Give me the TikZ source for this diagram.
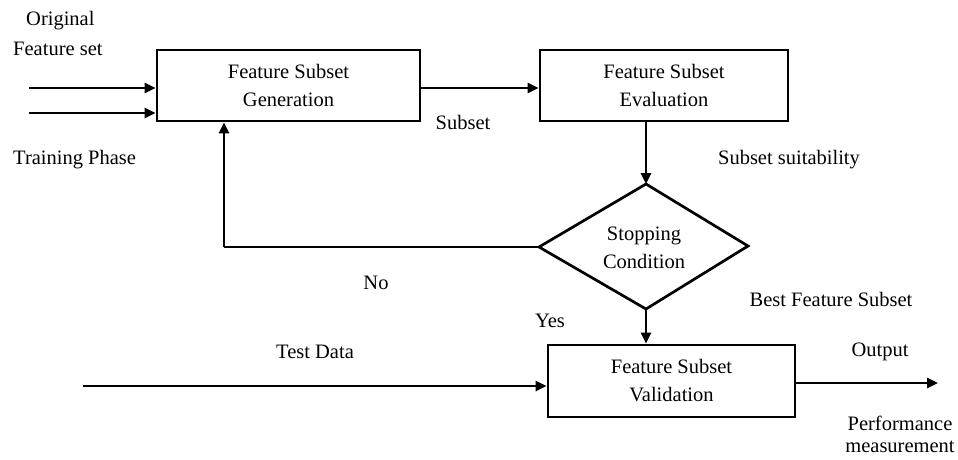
\documentclass[tikz,border=0pt]{standalone}
\usepackage{fontspec}
\setmainfont{Liberation Serif}
\usetikzlibrary{arrows.meta}
\begin{document}
\begin{tikzpicture}[x=1pt,y=-1pt,
  every node/.style={font=\fontsize{20.5}{28}\selectfont, inner sep=0pt},
  procbox/.style={draw, line width=2.7pt, align=center},
  lbl/.style={align=center},
  conn/.style={line width=2.6pt, -{Triangle[length=11pt,width=10pt]}},
  plain/.style={line width=2.6pt}]
\useasboundingbox (0,0) rectangle (958,459);
\fill[white] (0,0) rectangle (958,459);
% boxes
\node[procbox, minimum width=263pt, minimum height=71pt] (gen) at (288.5,85.5) {Feature Subset\\Generation};
\node[procbox, minimum width=248pt, minimum height=71pt] (eval) at (664,85.5) {Feature Subset\\Evaluation};
\node[procbox, minimum width=247pt, minimum height=72pt] (val) at (671.5,381) {Feature Subset\\Validation};
% diamond
\coordinate (dt) at (646,184);
\coordinate (dl) at (539,247);
\coordinate (dr) at (748,246);
\coordinate (db) at (646,309);
\draw[line width=2.7pt, line join=miter] (dt) -- (dr) -- (db) -- (dl) -- cycle;
\node[lbl] (stop) at (644,248) {Stopping\\Condition};
% inputs
\coordinate (in1) at (29,88);
\coordinate (in2) at (29,113);
\draw[conn] (in1) -- (in1 -| gen.west);
\draw[conn] (in2) -- (in2 -| gen.west);
% subset
\draw[conn] (gen.east |- 0,88) -- (eval.west |- 0,88);
% eval to diamond
\draw[conn] (dt |- eval.south) -- (dt);
% feedback
\draw[plain] (dl) -- (224,247) coordinate (fbc);
\draw[conn] (fbc) -- (fbc |- gen.south);
% yes
\draw[conn] (db) -- (db |- val.north);
% test data
\coordinate (td) at (83,386);
\draw[conn] (td) -- (td -| val.west);
% output
\coordinate (out) at (938,383);
\draw[conn] (val.east |- out) -- (out);
% labels
\node[lbl, anchor=west] (orig) at (26,21) {Original};
\node[lbl, anchor=west] (fset) at (13,49) {Feature set};
\node[lbl, anchor=west] (train) at (13,160) {Training Phase};
\node[lbl] (subset) at (463,122) {Subset};
\node[lbl] (suit) at (789,160) {Subset suitability};
\node[lbl] (no) at (376,283) {No};
\node[lbl] (best) at (831,299) {Best Feature Subset};
\node[lbl] (yes) at (550,321) {Yes};
\node[lbl] (test) at (315,352) {Test Data};
\node[lbl] (output) at (880,352) {Output};
\node[lbl] (perf) at (900,423) {Performance};
\node[lbl] (meas) at (900,447) {measurement};
\end{tikzpicture}
\end{document}
